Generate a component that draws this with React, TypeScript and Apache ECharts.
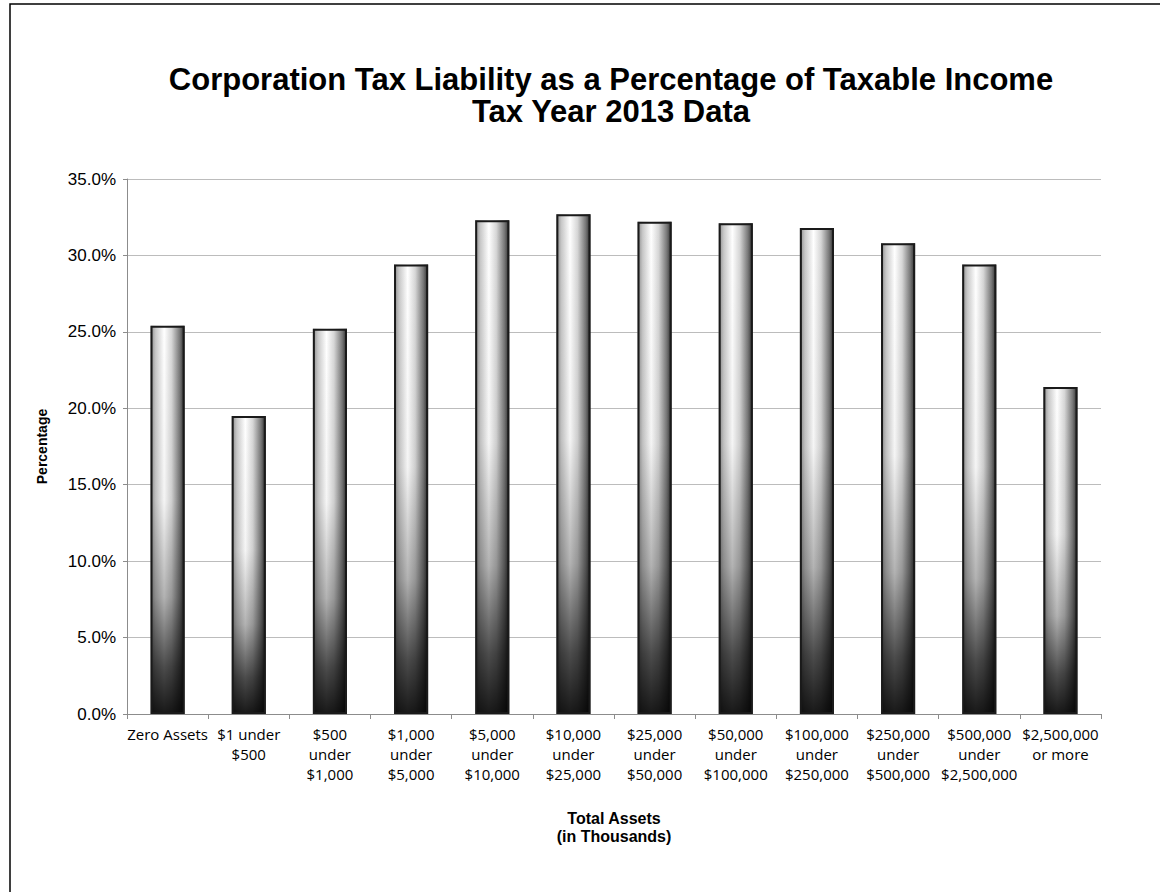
import React, { useEffect, useRef } from "react";
import * as echarts from "echarts";

const categories = [
  "Zero Assets",
  "$1 under\n$500",
  "$500\nunder\n$1,000",
  "$1,000\nunder\n$5,000",
  "$5,000\nunder\n$10,000",
  "$10,000\nunder\n$25,000",
  "$25,000\nunder\n$50,000",
  "$50,000\nunder\n$100,000",
  "$100,000\nunder\n$250,000",
  "$250,000\nunder\n$500,000",
  "$500,000\nunder\n$2,500,000",
  "$2,500,000\nor more",
];

const percentages = [25.4, 19.5, 25.2, 29.4, 32.3, 32.7, 32.2, 32.1, 31.8, 30.8, 29.4, 21.4];

const titleLines = ["Corporation Tax Liability as a Percentage of Taxable Income", "Tax Year 2013 Data"];
const yAxisName = "Percentage";
const xAxisName = "Total Assets\n(in Thousands)";

export default function App() {
  const ref = useRef<HTMLDivElement>(null);

  useEffect(() => {
    document.body.style.margin = "0";
    if (!ref.current) return;
    const chart = echarts.init(ref.current, undefined, { renderer: "svg" });

    const sideGradient = new echarts.graphic.LinearGradient(0, 0, 1, 0, [
      { offset: 0, color: "#8a8a8a" },
      { offset: 0.15, color: "#c8c8c8" },
      { offset: 0.4, color: "#ffffff" },
      { offset: 0.62, color: "#d6d6d6" },
      { offset: 0.86, color: "#777777" },
      { offset: 1, color: "#2a2a2a" },
    ]);
    const shadeGradient = new echarts.graphic.LinearGradient(0, 0, 0, 1, [
      { offset: 0, color: "rgba(0,0,0,0)" },
      { offset: 0.45, color: "rgba(0,0,0,0.04)" },
      { offset: 0.7, color: "rgba(0,0,0,0.3)" },
      { offset: 0.88, color: "rgba(0,0,0,0.7)" },
      { offset: 1, color: "rgba(0,0,0,0.9)" },
    ]);

    chart.setOption({
      animation: false,
      backgroundColor: "#ffffff",
      title: {
        text: titleLines.join("\n"),
        left: 606,
        textAlign: "center",
        top: 58,
        textStyle: {
          fontFamily: "Liberation Sans",
          fontWeight: "bold",
          fontSize: 31,
          lineHeight: 32,
          color: "#000",
        },
      },
      graphic: [
        {
          type: "rect",
          shape: { x: 10, y: 4, width: 1200, height: 950 },
          style: { fill: "none", stroke: "#000", lineWidth: 1.5 },
          silent: true,
        },
      ],
      grid: { left: 127, right: 59, top: 179, bottom: 178, containLabel: false },
      xAxis: {
        type: "category",
        data: categories,
        name: xAxisName,
        nameLocation: "middle",
        nameGap: 95,
        nameTextStyle: {
          fontFamily: "Liberation Sans",
          fontWeight: "bold",
          fontSize: 16,
          lineHeight: 18,
          color: "#000",
        },
        axisLine: { lineStyle: { color: "#8c8c8c", width: 1 } },
        axisTick: { show: true, length: 5, lineStyle: { color: "#8c8c8c" } },
        axisLabel: {
          interval: 0,
          margin: 10,
          fontFamily: "Open Sans",
          fontSize: 15,
          lineHeight: 20,
          color: "#000",
        },
      },
      yAxis: {
        type: "value",
        min: 0,
        max: 35,
        interval: 5,
        name: yAxisName,
        nameLocation: "middle",
        nameGap: 78,
        nameRotate: 90,
        nameTextStyle: {
          fontFamily: "Liberation Sans",
          fontWeight: "bold",
          fontSize: 14,
          color: "#000",
        },
        axisLine: { show: true, lineStyle: { color: "#8c8c8c", width: 1 } },
        axisTick: { show: true, length: 4, lineStyle: { color: "#8c8c8c" } },
        splitLine: { lineStyle: { color: "#bcbcbc", width: 1 } },
        axisLabel: {
          formatter: (v: number) => v.toFixed(1) + "%",
          margin: 11,
          fontFamily: "Liberation Sans",
          fontSize: 17,
          color: "#000",
        },
      },
      series: [
        {
          type: "bar",
          data: percentages,
          barWidth: "42%",
          itemStyle: { color: sideGradient },
          silent: true,
        },
        {
          type: "bar",
          data: percentages,
          barWidth: "42%",
          barGap: "-100%",
          itemStyle: { color: shadeGradient, borderColor: "#1a1a1a", borderWidth: 2 },
          silent: true,
        },
      ],
    });

    return () => chart.dispose();
  }, []);

  return <div ref={ref} style={{ width: 1160, height: 892 }} />;
}
